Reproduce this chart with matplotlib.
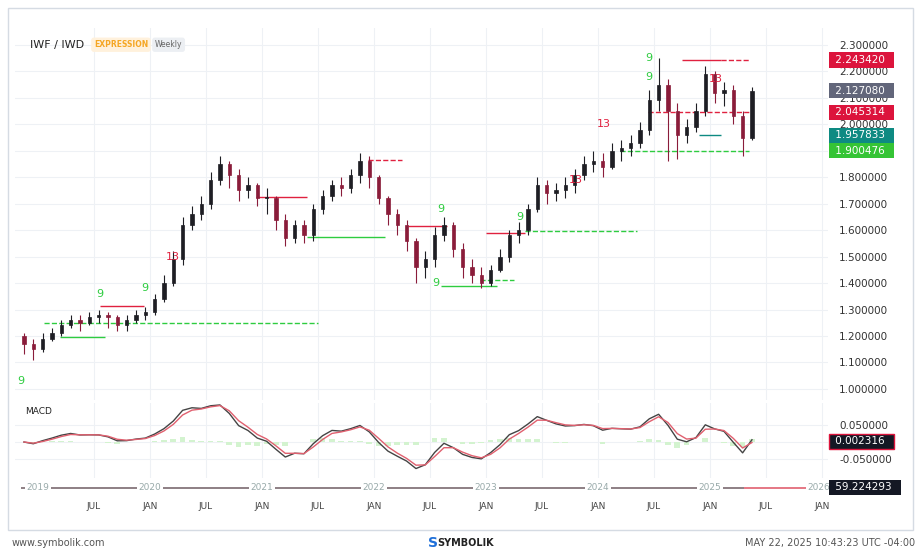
import matplotlib
matplotlib.use("Agg")
import matplotlib.pyplot as plt
import numpy as np
from matplotlib.patches import Rectangle

# ---------------- data ----------------
start_year, start_month = 2018, 11
closes = [1.17,1.15,1.19,1.21,1.24,1.26,1.25,1.27,1.28,1.27,1.24,1.26,1.28,1.29,
          1.34,1.40,1.49,1.62,1.66,1.70,1.79,1.85,1.81,1.75,1.77,1.72,
          1.72,1.64,1.57,1.62,1.58,1.68,1.73,1.77,1.76,1.81,1.86,1.80,
          1.72,1.66,1.62,1.56,1.46,1.49,1.58,1.62,1.53,1.46,1.43,1.40,
          1.45,1.50,1.58,1.60,1.68,1.77,1.74,1.75,1.77,1.81,1.85,1.86,
          1.84,1.90,1.91,1.93,1.98,2.09,2.15,2.05,1.96,1.99,2.05,2.19,
          2.12,2.13,2.03,1.95,2.127]
opens = [1.20] + closes[:-1]
highs = [1.21,1.19,1.21,1.23,1.26,1.28,1.28,1.29,1.30,1.29,1.28,1.28,1.30,1.31,
         1.36,1.43,1.52,1.65,1.69,1.73,1.82,1.88,1.86,1.83,1.80,1.78,
         1.76,1.73,1.66,1.64,1.64,1.70,1.75,1.79,1.80,1.83,1.89,1.88,
         1.81,1.73,1.68,1.64,1.57,1.52,1.61,1.65,1.63,1.55,1.49,1.46,
         1.47,1.53,1.60,1.63,1.70,1.80,1.79,1.78,1.80,1.83,1.88,1.90,
         1.89,1.93,1.94,1.96,2.01,2.13,2.25,2.17,2.08,2.02,2.08,2.22,
         2.20,2.16,2.15,2.05,2.14]
lows = [1.13,1.11,1.14,1.18,1.20,1.23,1.22,1.24,1.25,1.23,1.22,1.22,1.25,1.26,
        1.28,1.33,1.39,1.47,1.60,1.64,1.68,1.77,1.76,1.71,1.72,1.69,
        1.66,1.60,1.54,1.55,1.55,1.56,1.66,1.71,1.73,1.74,1.78,1.76,
        1.70,1.62,1.58,1.52,1.40,1.42,1.46,1.56,1.50,1.42,1.40,1.38,
        1.39,1.44,1.48,1.55,1.58,1.67,1.70,1.71,1.72,1.74,1.79,1.82,
        1.80,1.83,1.86,1.88,1.91,1.96,2.05,1.86,1.87,1.93,1.97,2.03,
        2.08,2.07,2.00,1.88,1.94]

levels = [
    (2019.05, 2021.50, 1.250, "#2ecc40", "--"),
    (2019.20, 2019.60, 1.198, "#2ecc40", "-"),
    (2019.55, 2019.95, 1.315, "#e0213f", "-"),
    (2020.95, 2021.40, 1.725, "#e0213f", "-"),
    (2021.40, 2022.10, 1.575, "#2ecc40", "-"),
    (2021.95, 2022.25, 1.865, "#e0213f", "--"),
    (2022.30, 2022.65, 1.615, "#e0213f", "-"),
    (2022.60, 2023.10, 1.390, "#2ecc40", "-"),
    (2022.95, 2023.25, 1.410, "#2ecc40", "--"),
    (2023.00, 2023.35, 1.590, "#e0213f", "-"),
    (2023.35, 2024.35, 1.595, "#2ecc40", "--"),
    (2024.20, 2025.35, 1.900, "#2ecc40", "--"),
    (2024.45, 2025.35, 2.045, "#e0213f", "--"),
    (2024.75, 2025.10, 2.243, "#e0213f", "-"),
    (2025.10, 2025.35, 2.243, "#e0213f", "--"),
    (2024.90, 2025.10, 1.958, "#0e8a82", "-"),
]
td_labels = [
    (2018.85, 1.03, "9", "#2ecc40"), (2019.55, 1.36, "9", "#2ecc40"),
    (2019.95, 1.38, "9", "#2ecc40"), (2020.20, 1.50, "13", "#e0213f"),
    (2022.60, 1.68, "9", "#2ecc40"), (2022.55, 1.40, "9", "#2ecc40"),
    (2023.30, 1.65, "9", "#2ecc40"), (2023.80, 1.79, "13", "#e0213f"),
    (2024.05, 2.00, "13", "#e0213f"), (2024.45, 2.25, "9", "#2ecc40"),
    (2024.45, 2.18, "9", "#2ecc40"), (2025.05, 2.17, "13", "#e0213f"),
]
year_labels = ["2019", "2020", "2021", "2022", "2023", "2024", "2025", "2026"]
price_ticks = [1.0, 1.1, 1.2, 1.3, 1.4, 1.5, 1.6, 1.7, 1.8, 1.9, 2.0, 2.1, 2.2, 2.3]
price_boxes = [(2.243420, "#dc143c"), (2.127080, "#62667a"), (2.045314, "#dc143c"),
               (1.957833, "#0e8a82"), (1.900476, "#35c435")]
macd_box = 0.002316
nav_value = "59.224293"

# ---------------- figure ----------------
W, H = 921, 556
fig = plt.figure(figsize=(W/100, H/100), dpi=100)
fig.patch.set_facecolor("white")

def ax_px(l, t, r, b):
    return fig.add_axes([l/W, 1-b/H, (r-l)/W, (b-t)/H])

fig.add_artist(Rectangle((8/W, 1-530/H), 905/W, 522/H, transform=fig.transFigure,
                         fill=False, ec="#d5dbe3", lw=1))

xs = np.array([start_year + (start_month - 1 + i)/12 + 0.5/12 for i in range(len(closes))])
x0, x1 = 2018.795, 2026.054
grid_c = "#eef1f5"
month_pos = [y + h for y in range(2019, 2026) for h in (0.0, 0.5)] + [2026.0]
month_pos = [m for m in month_pos if m > 2019.2]

def box_label(axis, y, text, fc, ec="none", trans=None):
    axis.text(1.005, y, " " + text + "  ", transform=trans, fontsize=7.5, color="white",
              va="center", ha="left", zorder=10, clip_on=False,
              bbox=dict(boxstyle="square,pad=0.25", fc=fc, ec=ec))

ax = ax_px(15, 28, 828, 400)
ax.set_xlim(x0, x1)
ax.set_ylim(0.958, 2.364)
for m in month_pos:
    ax.axvline(m, color=grid_c, lw=0.8, zorder=0)
for p in price_ticks:
    ax.axhline(p, color=grid_c, lw=0.8, zorder=0)
bw = 0.028
for x, o, c, h, l in zip(xs, opens, closes, highs, lows):
    col = "#1e1e24" if c >= o else "#8a1c3a"
    ax.vlines(x, l, h, color=col, lw=0.8, zorder=3)
    ax.add_patch(Rectangle((x-bw/2, min(o, c)), bw, max(abs(c-o), 0.004),
                           fc=col, ec=col, lw=0.5, zorder=4))
for s, e, lv, col, ls in levels:
    ax.hlines(lv, s, e, color=col, lw=1.0, linestyles=ls, zorder=2)
for x, y, t, col in td_labels:
    ax.text(x, y, t, color=col, fontsize=8, ha="center", va="center", zorder=5)
ax.yaxis.tick_right()
ax.set_yticks(price_ticks)
ax.set_yticklabels([f"{p:.6f}" for p in price_ticks], fontsize=7.5, color="#333")
ax.tick_params(axis="y", length=0, pad=8)
ax.set_xticks([])
for sp in ax.spines.values():
    sp.set_visible(False)
for v, col in price_boxes:
    box_label(ax, v, f"{v:.6f}", col, trans=ax.get_yaxis_transform())
ax.text(0.018, 0.955, "IWF / IWD", transform=ax.transAxes, fontsize=8, color="#222",
        va="center")
ax.text(0.097, 0.955, "EXPRESSION", transform=ax.transAxes, fontsize=5.5, color="#f5a623",
        va="center", weight="bold",
        bbox=dict(boxstyle="round,pad=0.35", fc="#fff1dc", ec="none"))
ax.text(0.172, 0.955, "Weekly", transform=ax.transAxes, fontsize=5.5, color="#666",
        va="center", bbox=dict(boxstyle="round,pad=0.35", fc="#eceff3", ec="none"))

closes_a = np.array(closes)
def ema(a, span):
    al = 2/(span+1); out = np.empty_like(a); out[0] = a[0]
    for i in range(1, len(a)):
        out[i] = al*a[i] + (1-al)*out[i-1]
    return out
macd = ema(closes_a, 2.8) - ema(closes_a, 6.3)
sig = ema(macd, 2.0)
hist = macd - sig
axm = ax_px(15, 403, 828, 478)
axm.set_xlim(x0, x1)
axm.set_ylim(-0.106, 0.115)
for m in month_pos:
    axm.axvline(m, color=grid_c, lw=0.8, zorder=0)
for p in (-0.05, 0, 0.05):
    axm.axhline(p, color=grid_c, lw=0.8, zorder=0)
axm.bar(xs, hist, width=0.05, color="#d3f3cf", zorder=1)
axm.plot(xs, macd, color="#444", lw=1.0, zorder=3)
axm.plot(xs, sig, color="#e0606f", lw=1.0, zorder=3)
axm.yaxis.tick_right()
axm.set_yticks([-0.05, 0.05])
axm.set_yticklabels(["-0.050000", "0.050000"], fontsize=7.5, color="#333")
axm.tick_params(axis="y", length=0, pad=8)
axm.set_xticks([])
for sp in axm.spines.values():
    sp.set_visible(False)
box_label(axm, macd_box, f"{macd_box:.6f}", "#141824", ec="#dc143c",
          trans=axm.get_yaxis_transform())
axm.text(0.012, 0.85, "MACD", transform=axm.transAxes, fontsize=6.5, color="#222")

axn = ax_px(15, 482, 828, 493)
axn.set_xlim(x0, x1); axn.set_ylim(0, 1)
axn.axis("off")
axn.hlines(0.5, 2018.85, 2025.3, color="#7a6a6f", lw=1.2)
axn.hlines(0.5, 2025.3, 2025.9, color="#e0606f", lw=1.2)
for i, yl in enumerate(year_labels):
    axn.text(2019 + i - (0.03 if i == 7 else 0), 0.5, yl, fontsize=6.5, color="#9aa",
             ha="center", va="center",
             bbox=dict(boxstyle="square,pad=0.15", fc="white", ec="none"))
box_label(axn, 0.5, nav_value, "#141824", trans=axn.transAxes)

axt = ax_px(15, 495, 828, 520)
axt.set_xlim(x0, x1); axt.set_ylim(0, 1); axt.axis("off")
for m in month_pos:
    axt.text(m, 0.55, "JAN" if abs(m - round(m)) < 1e-6 else "JUL", fontsize=6.5,
             color="#444", ha="center", va="center")

fig.text(12/W, 1-543/H, "www.symbolik.com", fontsize=7, color="#555", va="center")
fig.text(437/W, 1-543/H, "SYMBOLIK", fontsize=7, color="#222", va="center", weight="bold")
fig.text(428/W, 1-543/H, "S", fontsize=10, color="#1e6fd9", va="center", weight="bold")
fig.text(915/W, 1-543/H, "MAY 22, 2025 10:43:23 UTC -04:00", fontsize=7, color="#555",
         va="center", ha="right")

fig.savefig("out.png", dpi=100)
